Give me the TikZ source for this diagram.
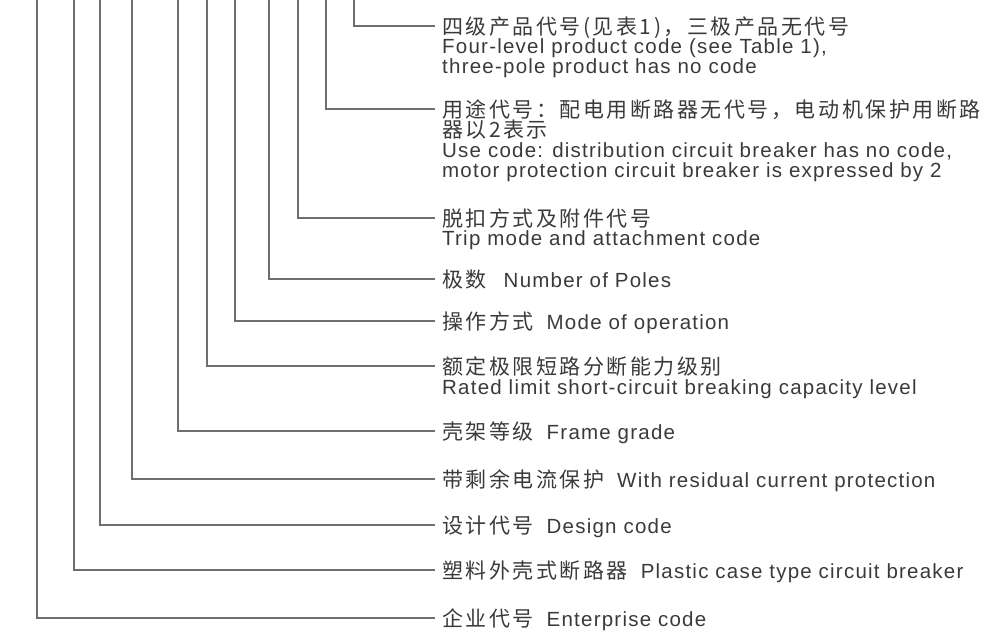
\documentclass[tikz,border=0pt]{standalone}
\usepackage{fontspec}
\setmainfont{Liberation Sans}[LetterSpace=6]
\newfontfamily\cjk{Noto Sans CJK SC}[LetterSpace=12]
\usetikzlibrary{positioning}
\definecolor{leadgray}{HTML}{6E6E6E}
\definecolor{textgray}{HTML}{3A3A3A}
\newcommand{\ensize}{\normalfont\fontsize{20.5pt}{22pt}\selectfont}

\begin{document}
\begin{tikzpicture}[x=1pt, y=-1pt,
    lead/.style={draw=leadgray, line width=1.1pt},
    cnline/.style={anchor=west, inner xsep=7pt, inner ysep=0pt,
      text height=18pt, text depth=2pt, text=textgray,
      font=\cjk\fontsize{21pt}{22pt}\selectfont},
    enline/.style={anchor=west, inner xsep=7pt, inner ysep=0pt,
      text height=15.5pt, text depth=0.9pt, text=textgray, font=\ensize},
  ]
  \useasboundingbox (0,0) rectangle (989,632);
  % free upper ends of the leads
  \coordinate (top1) at (354,0);
  \coordinate (top2) at (326,0);
  \coordinate (top3) at (298,0);
  \coordinate (top4) at (269,0);
  \coordinate (top5) at (235,0);
  \coordinate (top6) at (207,0);
  \coordinate (top7) at (178,0);
  \coordinate (top8) at (132,0);
  \coordinate (top9) at (100,0);
  \coordinate (top10) at (74,0);
  \coordinate (top11) at (37,0);
  % labels
  \node[cnline] (quad) at (435,26) {四级产品代号(见表1)，三极产品无代号};
  \node[enline, below=20pt of quad.west, anchor=west] (quaden) {Four-level product code (see Table 1),};
  \node[enline, below=20pt of quaden.west, anchor=west] (quadena) {three-pole product has no code};
  \node[cnline] (usage) at (435,109) {用途代号：配电用断路器无代号，电动机保护用断路};
  \node[cnline, below=20pt of usage.west, anchor=west] (usagea) {器以2表示};
  \node[enline, below=21pt of usagea.west, anchor=west] (usageen) {Use code: distribution circuit breaker has no code,};
  \node[enline, below=20pt of usageen.west, anchor=west] (usageena) {motor protection circuit breaker is expressed by 2};
  \node[cnline] (trip) at (435,218) {脱扣方式及附件代号};
  \node[enline, below=20pt of trip.west, anchor=west] (tripen) {Trip mode and attachment code};
  \node[cnline] (poles) at (435,279) {极数\hspace{17pt}{\ensize Number of Poles}};
  \node[cnline] (oper) at (435,321) {操作方式\hspace{6pt}{\ensize\ Mode of operation}};
  \node[cnline] (brk) at (435,366) {额定极限短路分断能力级别};
  \node[enline, below=21pt of brk.west, anchor=west] (brken) {Rated limit short-circuit breaking capacity level};
  \node[cnline] (frame) at (435,431) {壳架等级\hspace{6pt}{\ensize\ Frame grade}};
  \node[cnline] (resid) at (435,479) {带剩余电流保护\hspace{6pt}{\ensize\ With residual current protection}};
  \node[cnline] (design) at (435,525) {设计代号\hspace{6pt}{\ensize\ Design code}};
  \node[cnline] (case) at (435,570) {塑料外壳式断路器\hspace{6pt}{\ensize\ Plastic case type circuit breaker}};
  \node[cnline] (firm) at (435,618) {企业代号\hspace{6pt}{\ensize\ Enterprise code}};
  % leads
  \draw[lead] (top1) |- (quad.west);
  \draw[lead] (top2) |- (usage.west);
  \draw[lead] (top3) |- (trip.west);
  \draw[lead] (top4) |- (poles.west);
  \draw[lead] (top5) |- (oper.west);
  \draw[lead] (top6) |- (brk.west);
  \draw[lead] (top7) |- (frame.west);
  \draw[lead] (top8) |- (resid.west);
  \draw[lead] (top9) |- (design.west);
  \draw[lead] (top10) |- (case.west);
  \draw[lead] (top11) |- (firm.west);
\end{tikzpicture}
\end{document}
